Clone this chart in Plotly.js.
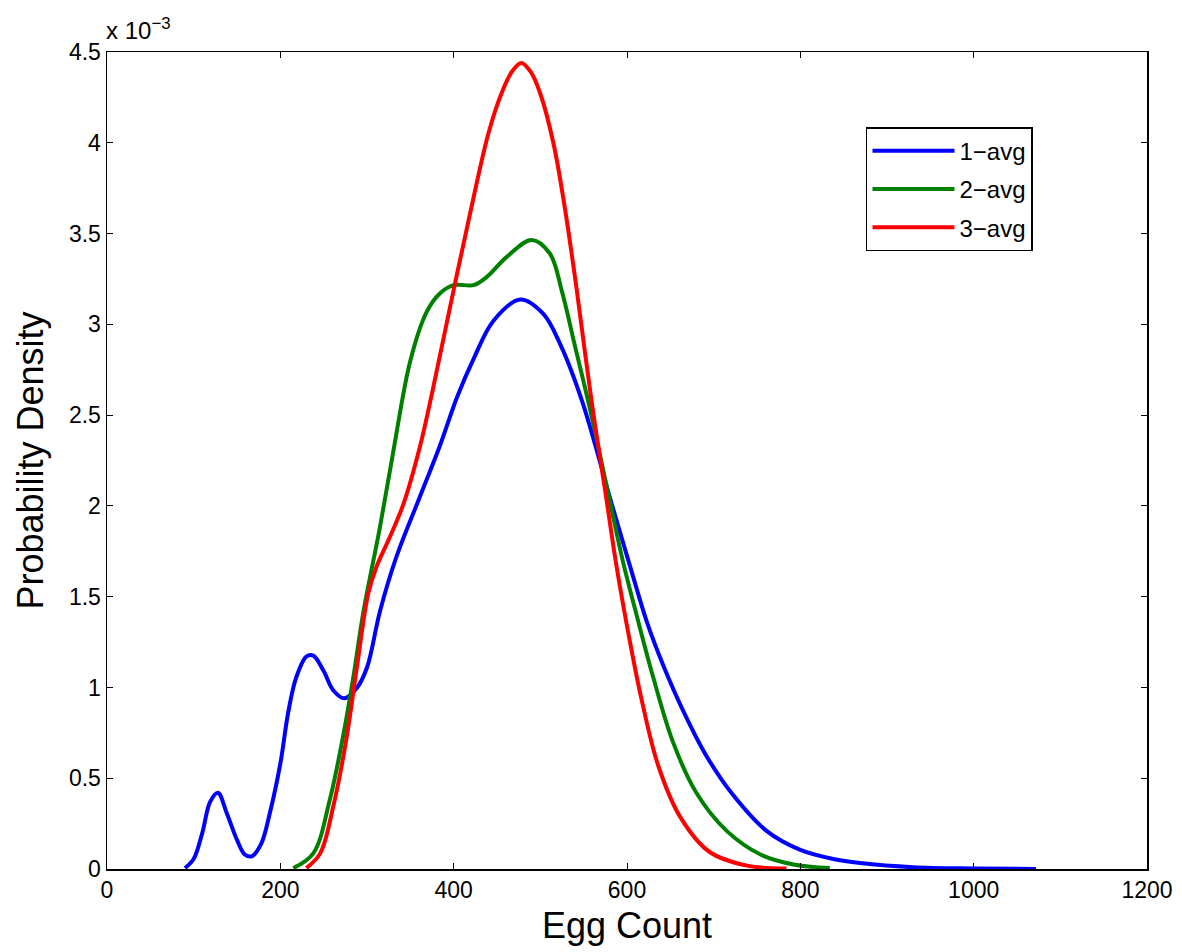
<!DOCTYPE html>
<html>
<head>
<meta charset="utf-8">
<script src="https://cdn.plot.ly/plotly-3.0.1.min.js"></script>
<style>html,body{margin:0;padding:0;background:#fff;}#chart{width:1182px;height:952px;}</style>
</head>
<body>
<div id="chart"></div>
<script>
// values in units of 1e-3
const seriesNames = ["1\u2212avg", "2\u2212avg", "3\u2212avg"];
const seriesColors = ["#0000ff", "#008000", "#ff0000"];

const x1 = [90,100,110,119,128,138,150,159,167,178,188,200,209,218,230,238,250,261,274,288,300,315,334,361,384,404,423,446,477,503,523,548,583,604,623,642,665,692,722,761,800,838,869,930,1000,1072];
const y1 = [0.005,0.055,0.2,0.37,0.42,0.31,0.16,0.08,0.07,0.14,0.31,0.58,0.86,1.05,1.17,1.175,1.09,0.985,0.94,0.995,1.11,1.42,1.72,2.05,2.33,2.6,2.81,3.02,3.137,3.06,2.89,2.58,2.0,1.66,1.36,1.12,0.87,0.62,0.41,0.21,0.105,0.055,0.033,0.01,0.003,0.0];

const x2 = [215,238,257,273,284,296,315,330,350,369,384,400,423,438,461,490,511,525,540,557,580,595,611,630,653,680,715,754,792,834];
const y2 = [0.005,0.086,0.38,0.747,1.05,1.42,1.885,2.29,2.80,3.07,3.17,3.216,3.216,3.26,3.37,3.465,3.39,3.18,2.88,2.54,2.03,1.70,1.40,1.06,0.70,0.42,0.21,0.08,0.025,0.005];

const x3 = [230,246,261,276,288,301.5,311,326.5,342,361,375,400,423,440,455,467,478,489,500,515,528,542,559,576.5,588,603.5,617,636,661,695,740,784];
const y3 = [0.005,0.086,0.343,0.71,1.10,1.518,1.665,1.83,2.01,2.325,2.62,3.19,3.70,4.05,4.27,4.39,4.44,4.39,4.27,4.0,3.65,3.19,2.58,2.03,1.665,1.25,0.93,0.57,0.29,0.095,0.017,0.003];

const xTicks = [0,200,400,600,800,1000,1200];
const yTicks = [0,0.5,1,1.5,2,2.5,3,3.5,4,4.5];
const yTickText = ["0","0.5","1","1.5","2","2.5","3","3.5","4","4.5"];

const xs = [x1,x2,x3], ys = [y1,y2,y3];
const traces = xs.map((xx,i)=>({
  x: xx, y: ys[i], type:'scatter', mode:'lines', name: seriesNames[i], legendgroup: 'g'+i,
  line:{color: seriesColors[i], width:4, shape:'spline', smoothing:1.0}
}));

const fontFam = 'Liberation Sans, Arial, Helvetica, sans-serif';
const layout = {
  width:1182, height:952,
  margin:{l:107, r:35, t:52, b:83},
  paper_bgcolor:'#fff', plot_bgcolor:'#fff',
  font:{family:fontFam, size:24, color:'#000'},
  showlegend:true,
  legend:{x:0.7298, y:0.908, xanchor:'left', yanchor:'top', bordercolor:'#000', borderwidth:1.5, bgcolor:'#fff',
    font:{size:24, family:fontFam}, tracegroupgap:4, itemwidth:82},
  xaxis:{range:[0,1200], tickvals:xTicks, ticktext:xTicks.map(String), ticks:'inside', ticklen:6, tickwidth:1,
    tickcolor:'#000', showline:true, linecolor:'#000', linewidth:1.5, mirror:'ticks', showgrid:false, zeroline:false,
    tickfont:{size:23}, title:{text:'Egg Count', font:{size:36}, standoff:10}},
  yaxis:{range:[0,4.5], tickvals:yTicks, ticktext:yTickText, ticks:'inside', ticklen:6, tickwidth:1,
    tickcolor:'#000', showline:true, linecolor:'#000', linewidth:1.5, mirror:'ticks', showgrid:false, zeroline:false,
    tickfont:{size:23}, title:{text:'Probability Density', font:{size:36}, standoff:14}},
  annotations:[{xref:'paper', yref:'paper', x:0, y:1, xanchor:'left', yanchor:'bottom', yshift:6, xshift:-3,
    text:'x 10<sup>\u22123</sup>', showarrow:false, font:{size:24, family:fontFam}}]
};
Plotly.newPlot('chart', traces, layout, {displayModeBar:false, staticPlot:true});
</script>
</body>
</html>
